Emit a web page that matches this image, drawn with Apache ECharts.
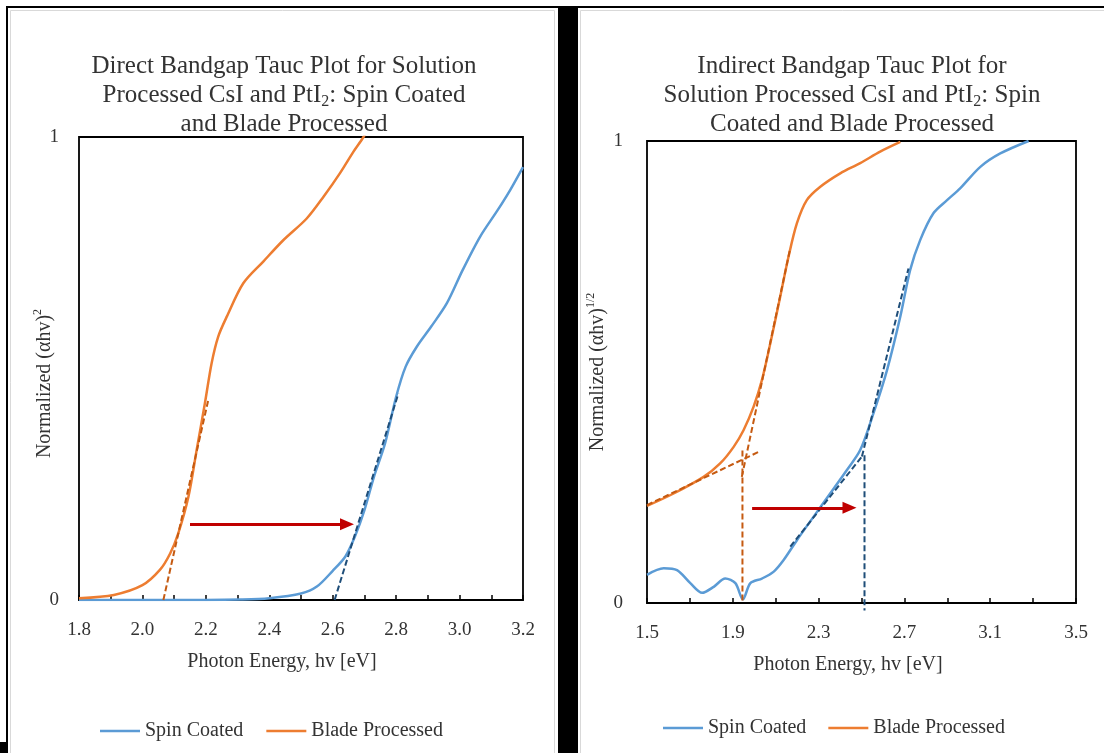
<!DOCTYPE html>
<html>
<head>
<meta charset="utf-8">
<script src="https://cdn.jsdelivr.net/npm/echarts@6/dist/echarts.min.js"></script>
<style>
  html, body { margin: 0; padding: 0; background: #fff; }
  #chart { width: 1104px; height: 753px; }
</style>
</head>
<body>
<div id="chart"></div>
<script>
// direct bandgap (left panel)
var directSpinX = [1.80, 2.00, 2.20, 2.31, 2.40, 2.50, 2.55, 2.60, 2.64, 2.67, 2.70, 2.73, 2.765, 2.80, 2.83, 2.865, 2.91, 2.96, 3.01, 3.065, 3.12, 3.16, 3.20]
var directSpinY = [0, 0, 0, 0.001, 0.004, 0.014, 0.029, 0.063, 0.094, 0.137, 0.194, 0.266, 0.338, 0.439, 0.504, 0.547, 0.590, 0.641, 0.713, 0.785, 0.842, 0.886, 0.935]
var directBladeX = [1.80, 1.91, 2.00, 2.055, 2.087, 2.113, 2.145, 2.171, 2.197, 2.218, 2.239, 2.266, 2.318, 2.381, 2.444, 2.518, 2.571, 2.623, 2.665, 2.697, 2.72]
var directBladeY = [0.004, 0.011, 0.032, 0.065, 0.10, 0.144, 0.223, 0.324, 0.425, 0.511, 0.569, 0.612, 0.684, 0.731, 0.777, 0.824, 0.871, 0.922, 0.968, 1.0, 1.03]
var directBladeFitX = [2.066, 2.207]
var directBladeFitY = [0, 0.43]
var directSpinFitX = [2.606, 2.807]
var directSpinFitY = [0, 0.446]
var directArrowX = [2.15, 2.665]
var directArrowY = [0.1635, 0.1635]
var directTicks = [1.8, 3.2, 0.2]

// indirect bandgap (right panel)
var indirectSpinX = [1.50, 1.578, 1.64, 1.702, 1.757, 1.811, 1.865, 1.912, 1.947, 1.982, 2.036, 2.091, 2.137, 2.199, 2.277, 2.354, 2.432, 2.494, 2.556, 2.619, 2.681, 2.727, 2.774, 2.836, 2.899, 2.961, 3.054, 3.147, 3.279]
var indirectSpinY = [0.061, 0.075, 0.071, 0.043, 0.022, 0.035, 0.053, 0.043, 0.008, 0.043, 0.053, 0.068, 0.093, 0.136, 0.187, 0.237, 0.288, 0.331, 0.411, 0.504, 0.620, 0.721, 0.786, 0.844, 0.872, 0.898, 0.944, 0.973, 1.0]
var indirectBladeX = [1.50, 1.624, 1.764, 1.841, 1.904, 1.95, 1.997, 2.036, 2.075, 2.121, 2.16, 2.199, 2.245, 2.308, 2.401, 2.494, 2.587, 2.681]
var indirectBladeY = [0.21, 0.237, 0.273, 0.302, 0.338, 0.374, 0.425, 0.483, 0.562, 0.663, 0.750, 0.822, 0.872, 0.901, 0.930, 0.952, 0.977, 0.998]
var bladeBaseX = [1.50, 2.02], bladeBaseY = [0.212, 0.327]
var bladeSteepX = [1.942, 2.166], bladeSteepY = [0.273, 0.764]
var bladeDropX = [1.945, 1.945], bladeDropY = [0.33, 0]
var spinBaseX = [2.168, 2.502], spinBaseY = [0.122, 0.317]
var spinSteepX = [2.502, 2.719], spinSteepY = [0.317, 0.724]
var spinDropX = [2.514, 2.514], spinDropY = [0.32, -0.016]
var indirectArrowX = [1.99, 2.464]
var indirectArrowY = [0.206, 0.206]
var indirectTicks = [1.5, 3.5, 0.4]

var legendNames = ['Spin Coated', 'Blade Processed']

var SERIF = '"Liberation Serif", "DejaVu Serif", serif'
var TXT = '#333'
var BLUE = '#5b9bd5', ORANGE = '#ed7d31'
var DBLUE = '#1f4e79', DORANGE = '#c55a11'

function pts (xs, ys) {
  return xs.map(function (x, i) { return [x, ys[i]] })
}

function curve (name, idx, xs, ys, color) {
  return {
    name: name, type: 'line', xAxisIndex: idx, yAxisIndex: idx,
    data: pts(xs, ys), showSymbol: false, symbol: 'none', smooth: 0.3,
    lineStyle: { color: color, width: 2.5 }, itemStyle: { color: color }
  }
}

function dashed (idx, xs, ys, color, noClip) {
  return {
    name: 'fit', type: 'line', xAxisIndex: idx, yAxisIndex: idx,
    data: pts(xs, ys), showSymbol: false, symbol: 'none', clip: !noClip,
    lineStyle: { color: color, width: 2, type: [6, 3] }, z: 3
  }
}

function arrow (idx, xs, ys) {
  return {
    name: 'shift', type: 'line', xAxisIndex: idx, yAxisIndex: idx,
    data: pts(xs, ys), showSymbol: false, symbol: 'none',
    lineStyle: { opacity: 0 },
    markLine: {
      silent: true, symbol: ['none', 'triangle'], symbolSize: [12, 14],
      label: { show: false },
      lineStyle: { color: '#c00000', width: 3, type: 'solid' },
      data: [[{ coord: [xs[0], ys[0]] }, { coord: [xs[1] - 0.02, ys[1]] }]]
    },
    z: 4
  }
}

function xAxis (idx, ticks, padRight) {
  return {
    type: 'value', gridIndex: idx, min: ticks[0], max: ticks[1], interval: ticks[2],
    name: 'Photon Energy, hv [eV]', nameLocation: 'middle', nameGap: 52, nameMoveOverlap: false,
    nameTextStyle: { fontFamily: SERIF, fontSize: 20, color: TXT, padding: [0, padRight, 0, 0] },
    axisLine: { lineStyle: { color: '#000', width: 1.5 } },
    axisTick: { show: true, inside: true, length: 5, lineStyle: { color: '#000', width: 1.5 } },
    minorTick: { show: true, splitNumber: 2, length: 5, lineStyle: { color: '#000', width: 1.5 } },
    splitLine: { show: false },
    axisLabel: {
      fontFamily: SERIF, fontSize: 19, color: TXT, margin: 21,
      formatter: function (v) { return v.toFixed(1) }
    }
  }
}

function yAxis (idx, name, gap, margin, shift) {
  return {
    type: 'value', gridIndex: idx, min: 0, max: 1, interval: 1,
    name: name, nameLocation: 'middle', nameGap: gap, nameMoveOverlap: false,
    nameTextStyle: {
      fontFamily: SERIF, fontSize: 20, color: TXT, padding: [0, shift, 0, 0],
      rich: {
        a: { fontFamily: SERIF, fontSize: 20, color: TXT, lineHeight: 26 },
        s: { fontFamily: SERIF, fontSize: 12, color: TXT, lineHeight: 14, verticalAlign: 'top' }
      }
    },
    axisLine: { show: false }, axisTick: { show: false }, splitLine: { show: false },
    axisLabel: { fontFamily: SERIF, fontSize: 19, color: TXT, margin: margin }
  }
}

function titleText (x, lines) {
  return {
    type: 'text', x: x, y: 52, silent: true,
    style: {
      text: lines.join('\n'), textAlign: 'center', align: 'center', textVerticalAlign: 'top', verticalAlign: 'top',
      fontFamily: SERIF, fontSize: 25, fill: TXT, lineHeight: 29,
      rich: {
        t: { fontFamily: SERIF, fontSize: 25, fill: TXT, color: TXT, lineHeight: 29 },
        sub: { fontFamily: SERIF, fontSize: 16, fill: TXT, color: TXT, lineHeight: 16, verticalAlign: 'bottom' }
      }
    }
  }
}

function legend (left, top, gap) {
  return {
    data: legendNames, left: left, top: top, itemGap: gap, itemWidth: 40, itemHeight: 2.5,
    icon: 'rect', selectedMode: false,
    textStyle: { fontFamily: SERIF, fontSize: 20, color: TXT }
  }
}

var chart = echarts.init(document.getElementById('chart'))

var option = {
  animation: false,
  backgroundColor: '#fff',
  grid: [
    { left: 79, top: 137, width: 444, height: 463, show: true, borderColor: '#000', borderWidth: 1.8 },
    { left: 647, top: 141, width: 429, height: 462, show: true, borderColor: '#000', borderWidth: 1.8 }
  ],
  xAxis: [xAxis(0, directTicks, 38), xAxis(1, indirectTicks, 27)],
  yAxis: [
    yAxis(0, '{a|Normalized (αhv)}{s|2}', 21, 20, 30),
    yAxis(1, '{a|Normalized (αhv)}{s|1/2}', 36, 24, 0)
  ],
  legend: [legend(95, 716, 23), legend(658, 713, 22)],
  graphic: [
    { type: 'rect', shape: { x: 10.5, y: 10.5, width: 544, height: 760 }, style: { fill: 'none', stroke: '#d9d9d9', lineWidth: 1 }, silent: true },
    { type: 'rect', shape: { x: 580.5, y: 10.5, width: 540, height: 760 }, style: { fill: 'none', stroke: '#d9d9d9', lineWidth: 1 }, silent: true },
    { type: 'rect', shape: { x: 6, y: 6, width: 1098, height: 2 }, style: { fill: '#000' }, silent: true },
    { type: 'rect', shape: { x: 6, y: 6, width: 2, height: 736 }, style: { fill: '#000' }, silent: true },
    { type: 'rect', shape: { x: 0, y: 742, width: 8, height: 11 }, style: { fill: '#000' }, silent: true },
    { type: 'rect', shape: { x: 558, y: 6, width: 20, height: 747 }, style: { fill: '#000' }, silent: true },
    titleText(284, [
      '{t|Direct Bandgap Tauc Plot for Solution}',
      '{t|Processed CsI and PtI}{sub|2}{t|: Spin Coated}',
      '{t|and Blade Processed}'
    ]),
    titleText(852, [
      '{t|Indirect Bandgap Tauc Plot for}',
      '{t|Solution Processed CsI and PtI}{sub|2}{t|: Spin}',
      '{t|Coated and Blade Processed}'
    ])
  ],
  series: [
    curve('Spin Coated', 0, directSpinX, directSpinY, BLUE),
    curve('Blade Processed', 0, directBladeX, directBladeY, ORANGE),
    dashed(0, directBladeFitX, directBladeFitY, DORANGE),
    dashed(0, directSpinFitX, directSpinFitY, DBLUE),
    arrow(0, directArrowX, directArrowY),

    curve('Spin Coated', 1, indirectSpinX, indirectSpinY, BLUE),
    curve('Blade Processed', 1, indirectBladeX, indirectBladeY, ORANGE),
    dashed(1, bladeBaseX, bladeBaseY, DORANGE),
    dashed(1, bladeSteepX, bladeSteepY, DORANGE),
    dashed(1, bladeDropX, bladeDropY, DORANGE),
    dashed(1, spinBaseX, spinBaseY, DBLUE),
    dashed(1, spinSteepX, spinSteepY, DBLUE),
    dashed(1, spinDropX, spinDropY, DBLUE, true),
    arrow(1, indirectArrowX, indirectArrowY)
  ]
}

chart.setOption(option)
</script>
</body>
</html>
